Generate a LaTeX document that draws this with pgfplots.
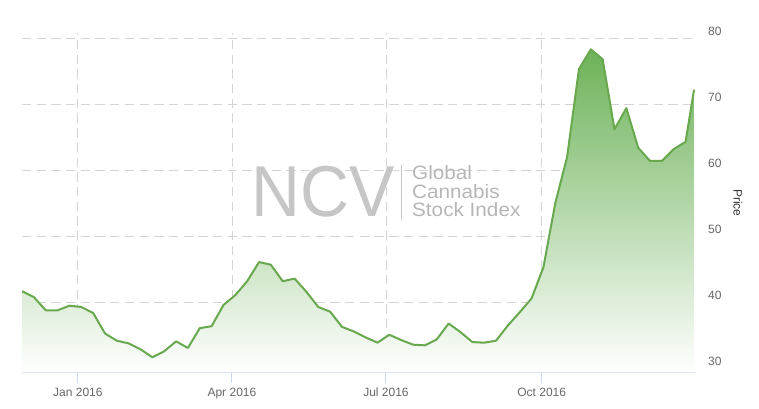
\documentclass[border=0pt]{standalone}
\usepackage{pgfplots}
\pgfplotsset{compat=1.18}
\usepackage{pgfplotstable}
\usepackage{fontspec}
\setmainfont{Liberation Sans}

\definecolor{ncvline}{RGB}{104,168,78}
\definecolor{ncvfill}{RGB}{108,178,88}
\definecolor{gridgray}{RGB}{212,212,212}
\definecolor{axisblue}{RGB}{204,214,235}
\definecolor{ticktext}{RGB}{102,102,102}
\definecolor{wmgray}{RGB}{198,198,198}
\definecolor{wmtext}{RGB}{182,182,182}

% weekly closes, x = days since 1 Jan 2016
\pgfplotstableread{
day price
-33 41.7
-26 40.8
-19 38.8
-12 38.8
-5 39.5
2 39.3
9 38.4
16 35.3
23 34.2
30 33.8
37 32.9
44 31.7
51 32.6
58 34.1
65 33.1
72 36.1
79 36.4
86 39.6
93 41.1
100 43.2
107 46.1
114 45.7
121 43.2
128 43.6
135 41.6
142 39.3
149 38.6
156 36.3
163 35.6
170 34.7
177 33.9
184 35.1
191 34.3
198 33.6
205 33.5
212 34.4
219 36.8
226 35.5
233 34.0
240 33.9
247 34.2
254 36.5
261 38.5
268 40.6
275 45.3
282 55.0
289 62.0
296 75.3
303 78.3
310 76.8
317 66.2
324 69.4
331 63.4
338 61.4
345 61.4
352 63.2
359 64.3
364 72.2
}\ncv

\begin{document}
\begin{tikzpicture}
\begin{axis}[
  scale only axis, width=504pt, height=254.25pt,
  xmin=-33, xmax=364.5, ymin=29.39, ymax=80.76,
  axis x line*=bottom, axis y line*=right,
  x axis line style={draw=axisblue, line width=0.75pt, -},
  y axis line style={draw=none},
  xtick={0,91,182,274},
  xticklabels={Jan 2016,Apr 2016,Jul 2016,Oct 2016},
  ytick={30,40,...,80},
  grid=major,
  grid style={gridgray, line width=0.6pt, dash pattern=on 7pt off 4pt},
  xtick style={draw=axisblue, line width=0.75pt},
  ytick style={draw=none},
  major tick length=7.5pt, tick align=outside,
  xticklabel style={anchor=base, inner sep=0pt, yshift=-10.5pt,
    font=\fontsize{9}{10}\selectfont, text=ticktext},
  yticklabel style={anchor=west, inner sep=0pt, xshift=2.25pt, yshift=5.25pt,
    font=\fontsize{9}{10}\selectfont, text=ticktext},
  /pgf/number format/assume math mode=true,
  ylabel={Price},
  every axis y label/.style={at={(rel axis cs:1.064,0.5)}, anchor=center,
    rotate=-90, font=\fontsize{9}{10}\selectfont, text=black!80},
]
% watermark
\node[anchor=center, inner sep=0pt, text=wmgray, font=\fontsize{54}{54}\selectfont]
  at (rel axis cs:0.448,0.532) {\scalebox{0.94}[1]{NCV}};
\draw[wmgray, line width=0.75pt] (rel axis cs:0.5633,0.4484) -- (rel axis cs:0.5633,0.6106);
\node[anchor=west, inner sep=0pt, align=left, text=wmtext,
  font=\fontsize{14.5}{13.9}\selectfont]
  at (rel axis cs:0.5794,0.534) {\scalebox{1.07}[1]{Global}\\\scalebox{1.07}[1]{Cannabis}\\\scalebox{1.07}[1]{Stock Index}};
% area and line
\addplot[draw=none, top color=ncvfill, bottom color=white]
  table[x=day, y=price] {\ncv} -- (axis cs:364,29.39) -- (axis cs:-33,29.39) -- cycle;
\addplot[ncvline, line width=1.5pt, line join=round, mark=none]
  table[x=day, y=price] {\ncv};
\end{axis}
\pgfresetboundingbox
\useasboundingbox (current axis.south west) ++(-16.5pt,-27pt) rectangle ++(568.5pt,306pt);
\end{tikzpicture}
\end{document}
